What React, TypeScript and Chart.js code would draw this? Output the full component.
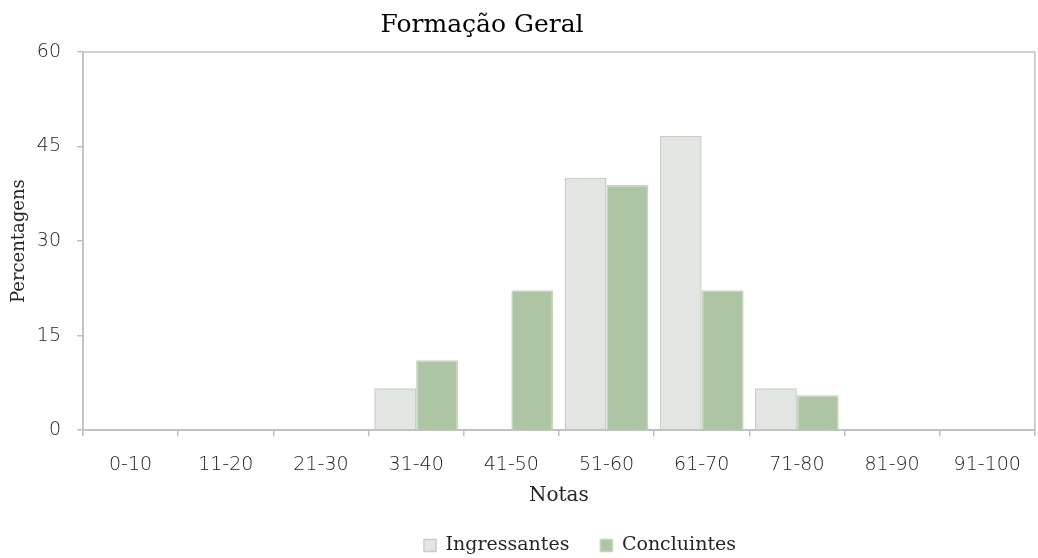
import React, { useEffect, useRef } from "react";
import { Chart, registerables } from "chart.js";

Chart.register(...registerables);

const categories = ["0-10", "11-20", "21-30", "31-40", "41-50", "51-60", "61-70", "71-80", "81-90", "91-100"];
const ingressantes = [0, 0, 0, 6.67, 0, 40, 46.67, 6.67, 0, 0];
const concluintes = [0, 0, 0, 11.11, 22.22, 38.89, 22.22, 5.56, 0, 0];
const yTicks = [0, 15, 30, 45, 60];

const AXIS = "#c0c0c0";

const shiftPlugin = {
  id: "shiftBoxes",
  afterLayout(chart: any) {
    const t = chart.titleBlock;
    if (t) {
      t.left -= 36;
      t.right -= 36;
    }
    const l = chart.legend;
    if (l) {
      l.left += 62;
      l.right += 62;
    }
  },
};

const framePlugin = {
  id: "frame",
  afterDatasetsDraw(chart: any) {
    const { ctx, chartArea } = chart;
    ctx.save();
    ctx.strokeStyle = AXIS;
    ctx.lineWidth = 1.5;
    ctx.strokeRect(chartArea.left, chartArea.top, chartArea.right - chartArea.left, chartArea.bottom - chartArea.top);
    ctx.restore();
  },
};

export default function App() {
  const ref = useRef<HTMLCanvasElement | null>(null);
  useEffect(() => {
    if (!ref.current) return;
    const chart = new Chart(ref.current, {
      type: "bar",
      data: {
        labels: categories,
        datasets: [
          {
            label: "Ingressantes",
            data: ingressantes,
            backgroundColor: "#e3e5e2",
            borderColor: "#c6cec4",
            borderWidth: 1.5,
            categoryPercentage: 0.88,
            barPercentage: 1.0,
          },
          {
            label: "Concluintes",
            data: concluintes,
            backgroundColor: "#adc5a4",
            borderColor: "#c4d4bd",
            borderWidth: 1.5,
            categoryPercentage: 0.88,
            barPercentage: 1.0,
          },
        ],
      },
      options: {
        responsive: true,
        maintainAspectRatio: false,
        animation: false,
        layout: { padding: { left: 0, right: 2, top: 10, bottom: -7 } },
        plugins: {
          title: {
            display: true,
            text: "Formação Geral",
            color: "#000000",
            font: { family: "DejaVu Serif", size: 25, weight: "normal" },
            padding: { top: 0, bottom: 12 },
          },
          legend: {
            display: true,
            position: "bottom",
            labels: {
              boxWidth: 12,
              boxHeight: 12,
              color: "#262626",
              font: { family: "DejaVu Serif", size: 19 },
              padding: 31,
            },
          },
          tooltip: { enabled: false },
        },
        scales: {
          x: {
            grid: {
              display: true,
              drawOnChartArea: false,
              drawTicks: true,
              tickLength: 6,
              color: AXIS,
              lineWidth: 1.5,
            },
            border: { display: true, color: AXIS, width: 1.5 },
            ticks: {
              color: "#1a1a1a",
              font: { family: "DejaVu Sans", size: 19, weight: "200" },
              padding: 17,
              maxRotation: 0,
            },
            title: {
              display: true,
              text: "Notas",
              color: "#262626",
              font: { family: "DejaVu Serif", size: 20 },
              padding: { top: -9, bottom: -3 },
            },
          },
          y: {
            min: 0,
            max: 60,
            afterBuildTicks: (scale: any) => {
              scale.ticks = yTicks.map((v) => ({ value: v }));
            },
            afterFit: (scale: any) => {
              scale.width = 83;
            },
            grid: {
              display: true,
              drawOnChartArea: false,
              drawTicks: true,
              tickLength: 6,
              color: AXIS,
              lineWidth: 1.5,
            },
            border: { display: true, color: AXIS, width: 1.5 },
            ticks: {
              color: "#1a1a1a",
              font: { family: "DejaVu Sans", size: 19, weight: "200" },
              padding: 16,
            },
            title: {
              display: true,
              text: "Percentagens",
              color: "#262626",
              font: { family: "DejaVu Serif", size: 18 },
              padding: { top: 9, bottom: 0 },
            },
          },
        },
      },
      plugins: [shiftPlugin, framePlugin],
    });
    return () => chart.destroy();
  }, []);
  return (
    <div style={{ position: "fixed", left: 0, top: 0, width: 1038, height: 558, background: "#ffffff" }}>
      <canvas ref={ref} />
    </div>
  );
}
